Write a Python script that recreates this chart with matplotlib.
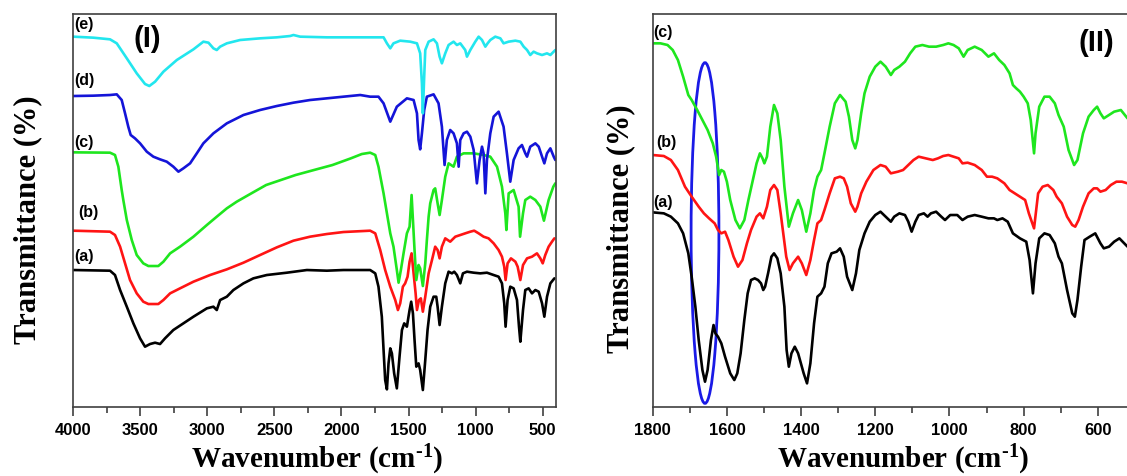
import matplotlib
matplotlib.use("Agg")
import matplotlib.pyplot as plt
from matplotlib.patches import Ellipse
from matplotlib.ticker import MultipleLocator

# ---------------- Panel (I) data: wavenumber (cm-1) and transmittance (a.u.) ----------------
wn_I_a = [4000, 3726, 3689, 3651, 3601, 3552, 3502, 3465, 3428, 3390, 3353, 3316, 3254, 3179, 3104,
          3004, 2955, 2930, 2905, 2855, 2806, 2731, 2657, 2557, 2407, 2258, 2109, 1985, 1935, 1786,
          1748, 1724, 1699, 1686, 1674, 1661, 1649, 1636, 1624, 1607, 1587, 1567, 1549, 1532, 1512,
          1492, 1480, 1467, 1455, 1442, 1425, 1413, 1393, 1375, 1358, 1338, 1313, 1293, 1283, 1268,
          1251, 1226, 1201, 1176, 1159, 1139, 1114, 1094, 1064, 1014, 965, 915, 865, 828, 803, 786,
          776, 761, 741, 716, 691, 676, 666, 646, 629, 604, 579, 554, 529, 504, 487, 467, 442, 412]
T_I_a = [410, 408, 395, 350, 300, 250, 205, 180, 188, 192, 188, 205, 230, 250, 270,
         295, 300, 290, 320, 330, 350, 370, 385, 395, 402, 410, 408, 410, 410, 410,
         400, 360, 270, 170, 80, 52, 130, 175, 160, 100, 55, 150, 230, 250, 240,
         290, 315, 280, 200, 120, 130, 110, 50, 140, 230, 300, 330, 330, 300, 245,
         300, 370, 405, 400, 405, 395, 370, 400, 405, 402, 400, 402, 395, 390, 370, 310,
         240, 320, 360, 355, 320, 240, 195, 290, 350, 355, 340, 350, 345, 310, 270, 330, 370, 385]

wn_I_b = [4000, 3726, 3689, 3651, 3614, 3577, 3527, 3478, 3440, 3366, 3328, 3278, 3204, 3104, 2980,
          2855, 2731, 2607, 2482, 2358, 2234, 2109, 1985, 1935, 1786, 1748, 1711, 1674, 1636, 1599,
          1579, 1562, 1542, 1525, 1507, 1492, 1477, 1467, 1447, 1437, 1422, 1408, 1393, 1375, 1350,
          1325, 1301, 1283, 1268, 1251, 1226, 1189, 1151, 1114, 1077, 1039, 1010, 977, 940, 903,
          865, 828, 803, 786, 776, 761, 736, 703, 686, 666, 646, 616, 579, 542, 517, 499, 480, 455,
          430, 412]
T_I_b = [528, 525, 515, 480, 430, 380, 340, 315, 308, 308, 320, 340, 355, 375, 395,
         412, 432, 455, 478, 498, 510, 518, 524, 525, 528, 520, 470, 410, 360, 320,
         290, 310, 360, 370, 390, 435, 460, 420, 340, 290, 320, 325, 285, 330, 400,
         440, 480, 470, 445, 480, 505, 495, 510, 515, 520, 525, 528, 520, 510, 505,
         490, 470, 450, 420, 380, 430, 445, 435, 420, 380, 425, 445, 450, 460, 445, 430, 455, 480,
         495, 505]

wn_I_c = [4000, 3726, 3689, 3664, 3639, 3627, 3601, 3564, 3527, 3478, 3440, 3366, 3328, 3278, 3204,
          3104, 3004, 2930, 2855, 2781, 2672, 2562, 2452, 2342, 2205, 2067, 1930, 1848, 1786, 1748,
          1724, 1686, 1661, 1636, 1612, 1587, 1574, 1557, 1537, 1512, 1492, 1477, 1467, 1455, 1442,
          1425, 1413, 1393, 1375, 1363, 1350, 1338, 1313, 1301, 1283, 1268, 1251, 1226, 1201, 1164,
          1139, 1089, 1014, 940, 890, 840, 803, 778, 770, 753, 716, 679, 668, 646, 629, 592, 554,
          517, 490, 455, 420, 405]
T_I_c = [763, 762, 755, 720, 650, 620, 560, 500, 455, 430, 422, 422, 435, 460, 480,
         510, 545, 570, 595, 615, 640, 665, 680, 695, 710, 725, 745, 758, 762, 755,
         720, 640, 580, 520, 480, 410, 372, 410, 460, 520, 540, 635, 560, 470, 380,
         425, 415, 362, 430, 500, 570, 610, 650, 655, 610, 575, 620, 690, 730, 720,
         750, 760, 760, 755, 750, 720, 660, 580, 530, 640, 650, 600, 510, 580, 620, 630, 620,
         600, 558, 620, 660, 670]

wn_I_d = [4000, 3851, 3726, 3676, 3639, 3614, 3590, 3572, 3540, 3502, 3452, 3403, 3353, 3303, 3254,
          3216, 3179, 3129, 3079, 3030, 2955, 2855, 2731, 2607, 2482, 2358, 2234, 2109, 1985, 1860,
          1786, 1724, 1686, 1636, 1587, 1512, 1462, 1437, 1425, 1413, 1400, 1383, 1363, 1313, 1276,
          1251, 1231, 1214, 1189, 1164, 1139, 1126, 1114, 1089, 1064, 1039, 1014, 990, 970, 952,
          940, 927, 915, 890, 865, 828, 791, 766, 741, 716, 679, 654, 629, 616, 592, 554, 529, 504,
          487, 467, 442, 417, 405]
T_I_d = [932, 933, 935, 937, 920, 880, 840, 815, 805, 790, 765, 750, 742, 735, 720,
         705, 715, 730, 760, 790, 820, 850, 875, 890, 902, 912, 920, 925, 930, 935,
         930, 930, 910, 855, 900, 925, 920, 880, 800, 772, 820, 890, 930, 937, 910,
         840, 725, 800, 830, 820, 790, 720, 800, 820, 825, 810, 770, 670, 740, 780,
         760, 640, 740, 820, 870, 885, 840, 760, 675, 740, 775, 785, 760, 750, 780, 790, 780, 750,
         730, 760, 775, 750, 740]

wn_I_e = [4000, 3851, 3726, 3676, 3601, 3527, 3465, 3433, 3390, 3328, 3228, 3104, 3030, 2992, 2955,
          2930, 2905, 2855, 2756, 2607, 2482, 2383, 2358, 2308, 2109, 1860, 1786, 1686, 1661, 1636,
          1612, 1562, 1487, 1437, 1413, 1400, 1393, 1383, 1375, 1350, 1313, 1288, 1268, 1251, 1226,
          1201, 1164, 1139, 1114, 1077, 1064, 1039, 1002, 977, 952, 927, 910, 890, 853, 815, 791,
          753, 703, 666, 641, 616, 592, 567, 542, 504, 467, 442, 405]
T_I_e = [1110, 1107, 1102, 1090, 1045, 1000, 968, 962, 975, 1005, 1040, 1072, 1095, 1092, 1075,
         1070, 1080, 1090, 1100, 1105, 1108, 1112, 1115, 1110, 1108, 1108, 1108, 1108, 1090, 1075,
         1090, 1098, 1095, 1090, 1060, 970, 880, 990, 1070, 1095, 1102, 1090, 1050, 1030, 1060,
         1085, 1095, 1085, 1090, 1070, 1050, 1070, 1095, 1110, 1100, 1080, 1090, 1100, 1110, 1105, 1090,
         1095, 1098, 1095, 1080, 1070, 1055, 1065, 1060, 1055, 1060, 1055, 1070]

# ---------------- Panel (II) data ----------------
wn_II_a = [1800, 1770, 1751, 1732, 1718, 1704, 1695, 1685, 1676, 1666, 1659, 1652, 1643, 1636, 1631,
           1624, 1615, 1605, 1591, 1580, 1572, 1563, 1553, 1544, 1535, 1525, 1516, 1508, 1502, 1497,
           1489, 1480, 1473, 1464, 1455, 1445, 1439, 1433, 1426, 1417, 1408, 1393, 1384, 1375, 1365,
           1356, 1346, 1337, 1328, 1318, 1304, 1295, 1285, 1276, 1262, 1252, 1243, 1229, 1215, 1200,
           1186, 1172, 1158, 1149, 1135, 1120, 1111, 1102, 1092, 1083, 1069, 1059, 1050, 1036, 1022,
           1012, 998, 979, 965, 951, 932, 913, 895, 880, 871, 857, 843, 829, 810, 793, 784, 775, 768,
           758, 744, 730, 716, 706, 697, 683, 669, 662, 655, 645, 636, 622, 607, 593, 584, 570, 556,
           542, 520]
T_II_a = [583, 580, 570, 550, 520, 460, 390, 300, 200, 110, 75, 110, 200, 245, 220,
          210, 190, 150, 100, 80, 100, 160, 260, 340, 380, 385, 380, 370, 350, 360,
          400, 450, 460, 445, 400, 300, 170, 120, 160, 180, 160, 100, 70, 130, 250,
          330, 340, 360, 430, 460, 465, 475, 450, 390, 350, 400, 470, 520, 555, 575,
          585, 570, 555, 570, 580, 575, 555, 525, 555, 575, 580, 570, 580, 585, 570,
          560, 575, 575, 560, 570, 575, 570, 565, 565, 560, 565, 555, 520, 505, 495, 440, 340, 430,
          505, 520, 515, 490, 450, 430, 350, 280, 270, 320, 420, 500, 510, 520, 490, 475, 480, 495,
          505, 480]

wn_II_b = [1800, 1770, 1751, 1732, 1713, 1695, 1676, 1662, 1648, 1633, 1624, 1615, 1605, 1596, 1582,
           1570, 1558, 1546, 1535, 1520, 1511, 1502, 1492, 1483, 1473, 1464, 1455, 1440, 1431, 1422,
           1408, 1398, 1386, 1375, 1365, 1356, 1346, 1337, 1323, 1309, 1295, 1285, 1276, 1266, 1254,
           1248, 1238, 1224, 1205, 1186, 1172, 1158, 1139, 1125, 1111, 1097, 1083, 1064, 1045, 1031,
           1017, 1003, 989, 975, 965, 951, 932, 913, 899, 885, 871, 852, 838, 824, 810, 796, 786, 772,
           761, 749, 735, 720, 711, 697, 683, 669, 661, 652, 640, 625, 611, 602, 593, 579, 565, 550,
           535, 520]
T_II_b = [755, 752, 740, 710, 660, 630, 600, 580, 565, 550, 530, 520, 525, 500, 450,
          420, 440, 490, 530, 570, 580, 565, 600, 650, 665, 650, 580, 450, 410, 430,
          450, 430, 395, 440, 500, 550, 560, 590, 640, 685, 690, 685, 660, 610, 585,
          600, 640, 675, 710, 725, 720, 700, 705, 710, 725, 740, 750, 745, 740, 745,
          752, 755, 750, 745, 730, 732, 725, 710, 690, 690, 685, 670, 650, 640, 630, 620, 580, 535,
          640, 660, 665, 650, 630, 610, 570, 545, 540, 560, 600, 640, 655, 655, 645, 650, 665, 675,
          675, 670]

wn_II_c = [1800, 1779, 1760, 1746, 1732, 1718, 1704, 1695, 1680, 1666, 1652, 1638, 1629, 1621, 1615,
           1608, 1600, 1591, 1577, 1565, 1553, 1542, 1530, 1520, 1511, 1504, 1499, 1492, 1483, 1473,
           1464, 1455, 1445, 1433, 1422, 1408, 1398, 1386, 1375, 1365, 1356, 1346, 1337, 1323, 1309,
           1295, 1280, 1271, 1262, 1254, 1248, 1238, 1229, 1215, 1200, 1186, 1172, 1158, 1149, 1135,
           1120, 1106, 1092, 1073, 1055, 1036, 1017, 1003, 989, 975, 962, 951, 932, 913, 895, 880,
           866, 852, 838, 829, 820, 810, 800, 789, 781, 772, 768, 758, 744, 730, 716, 706, 692, 679,
           664, 655, 640, 625, 611, 602, 593, 584, 570, 556, 538, 520]
T_II_c = [1090, 1090, 1085, 1070, 1040, 990, 935, 920, 890, 860, 830, 790, 750, 695, 710,
          705, 675, 620, 560, 535, 560, 620, 680, 730, 760, 745, 730, 750, 840, 905,
          880, 800, 660, 540, 580, 620, 590, 525, 580, 650, 690, 710, 760, 840, 910,
          935, 915, 870, 800, 775, 800, 880, 940, 990, 1020, 1035, 1020, 995, 1010, 1020,
          1035, 1060, 1080, 1085, 1080, 1080, 1085, 1090, 1085, 1075, 1050, 1070, 1080, 1070, 1050, 1060,
          1040, 1025, 1000, 965, 955, 945, 930, 910, 860, 760, 820, 900, 930, 930, 910, 875, 840, 770,
          725, 740, 820, 870, 890, 900, 880, 865, 875, 885, 890, 865]

# highlighted band (blue ellipse): centre wavenumber, centre T, width, height
ell_wn, ell_T, ell_w, ell_h = 1659, 521, 75, 1022

curve_labels = ["(a)", "(b)", "(c)", "(d)", "(e)"]
colors = {"a": "#000000", "b": "#ff1414", "c": "#1ee61e", "d": "#1414d8", "e": "#22e6ee"}

plt.rcParams["mathtext.fontset"] = "custom"
plt.rcParams["mathtext.rm"] = "Liberation Serif:bold"
plt.rcParams["mathtext.bf"] = "Liberation Serif:bold"
plt.rcParams["mathtext.it"] = "Liberation Serif:bold"

W, H = 1127, 476
fig = plt.figure(figsize=(W / 100, H / 100), dpi=100)

def px_axes(l, r, t, b):
    return [l / W, 1 - b / H, (r - l) / W, (b - t) / H]

ax1 = fig.add_axes(px_axes(73.3, 556, 14, 406.7))
ax2 = fig.add_axes(px_axes(652.7, 1153.5, 14, 406.7))

lw = 1.9
kw = dict(lw=lw, solid_joinstyle="round", solid_capstyle="round")
ax1.plot(wn_I_a, T_I_a, color=colors["a"], **kw)
ax1.plot(wn_I_b, T_I_b, color=colors["b"], **kw)
ax1.plot(wn_I_c, T_I_c, color=colors["c"], **kw)
ax1.plot(wn_I_d, T_I_d, color=colors["d"], **kw)
ax1.plot(wn_I_e, T_I_e, color=colors["e"], **kw)

ax2.plot(wn_II_a, T_II_a, color=colors["a"], **kw)
ax2.plot(wn_II_b, T_II_b, color=colors["b"], **kw)
ax2.plot(wn_II_c, T_II_c, color=colors["c"], **kw)
ax2.add_patch(Ellipse((ell_wn, ell_T), ell_w, ell_h, fill=False, ec="#1a1ae6", lw=2.0))

ax1.set_xlim(4000, 400)
ax2.set_xlim(1800, 450)
ax1.xaxis.set_major_locator(MultipleLocator(500))
ax1.xaxis.set_minor_locator(MultipleLocator(250))
ax2.xaxis.set_major_locator(MultipleLocator(200))
ax2.xaxis.set_minor_locator(MultipleLocator(100))
for ax in (ax1, ax2):
    ax.set_ylim(0, 1178)
    ax.set_yticks([])
    for s in ax.spines.values():
        s.set_color("#404040")
        s.set_linewidth(1.2)
    ax.tick_params(axis="x", which="major", direction="out", length=6.5, width=1.2,
                   color="#404040", pad=5)
    ax.tick_params(axis="x", which="minor", direction="out", length=4.5, width=1.2,
                   color="#404040")
    for lab in ax.get_xticklabels():
        lab.set_fontfamily("Liberation Sans")
        lab.set_fontweight("bold")
        lab.set_fontsize(12)
ax2.spines["right"].set_visible(False)

# axis titles
lab_font = dict(family="Liberation Serif", weight="bold", size=21)
xl = r"Wavenumber (cm$^{\text{-1}}$)"
fig.text(317 / W, 1 - 460 / H, xl, ha="center", va="center", **lab_font)
fig.text(903 / W, 1 - 460 / H, xl, ha="center", va="center", **lab_font)
yl_font = dict(family="Liberation Serif", weight="bold", size=22)
fig.text(28 / W, 1 - 220 / H, "Transmittance (%)", rotation=90, ha="center", va="center", **yl_font)
fig.text(621 / W, 1 - 229 / H, "Transmittance (%)", rotation=90, ha="center", va="center", **yl_font)

# curve labels
cl_font = dict(family="Liberation Sans", weight="bold", size=11.5)
for lbl, (x, y) in zip(curve_labels, [(74, 257), (78, 213), (74, 142), (74, 80), (74, 24)]):
    fig.text(x / W, 1 - y / H, lbl, ha="left", va="center", **cl_font)
for lbl, (x, y) in zip(curve_labels[:3], [(653, 202), (656, 143), (653, 32)]):
    fig.text(x / W, 1 - y / H, lbl, ha="left", va="center", **cl_font)

pn_font = dict(family="Liberation Sans", weight="bold", size=21)
fig.text(147 / W, 1 - 39 / H, "(I)", ha="center", va="center", **pn_font)
fig.text(1096 / W, 1 - 43 / H, "(II)", ha="center", va="center", **pn_font)

fig.savefig("out.png", dpi=100)
